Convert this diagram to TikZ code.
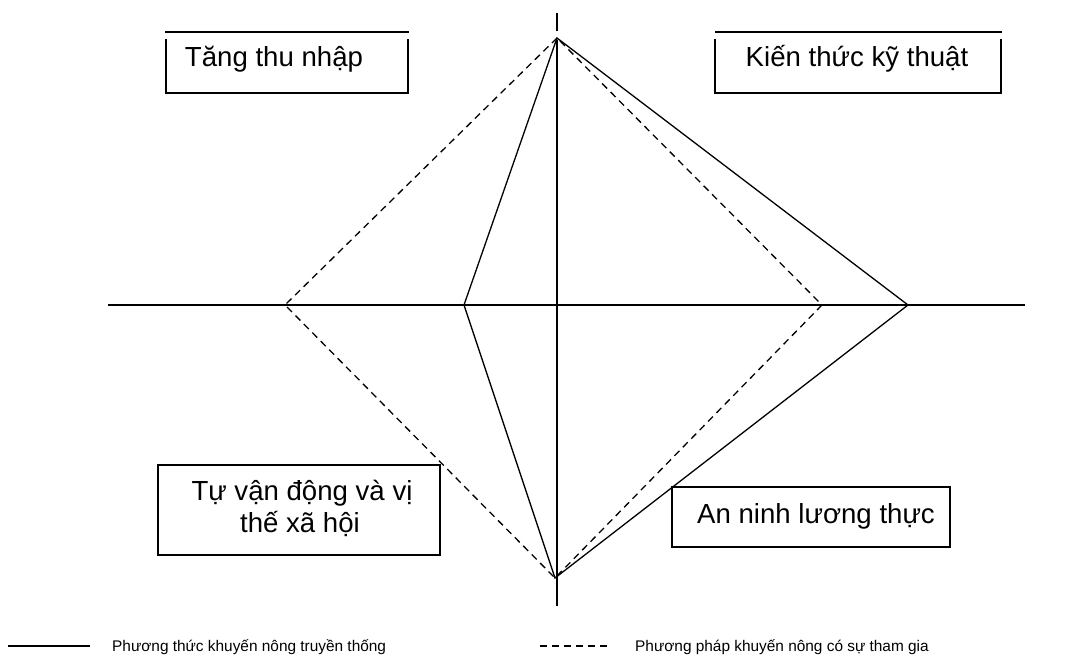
\documentclass[tikz,border=0pt]{standalone}
\usepackage{fontspec}
\setmainfont{Liberation Sans}
\begin{document}
\begin{tikzpicture}[x=1pt,y=-1pt,
  axis/.style={line width=1.7pt},
  solidln/.style={line width=1.3pt},
  dashln/.style={line width=1.3pt,dash pattern=on 7pt off 5pt},
  boxln/.style={line width=1.3pt},
  boxtxt/.style={font=\fontsize{27.6}{33}\selectfont,inner sep=0pt},
  legtxt/.style={font=\fontsize{15.4}{18}\selectfont,inner sep=0pt,anchor=base west}]
\useasboundingbox (0,0) rectangle (1069,655);
% key points
\coordinate (top) at (557,38);
\coordinate (bot) at (555,578);
\coordinate (L1) at (285,305);
\coordinate (L2) at (464,305);
\coordinate (R1) at (822,305);
\coordinate (R2) at (908,305);
\coordinate (ax1) at (108,305);
\coordinate (ax2) at (1025,305);
\coordinate (vt) at (557,13);
\coordinate (vg1) at (557,31);
\coordinate (vg2) at (557,40);
\coordinate (vb) at (557,606);
% axes
\draw[axis] (ax1) -- (ax2);
\draw[axis] (vt) -- (vg1);
\draw[axis] (vg2) -- (vb);
% traditional (solid)
\draw[solidln] (top) -- (L2) -- (bot) -- (R2) -- cycle;
% participatory (dashed)
\draw[dashln] (top) -- (L1) -- (bot) -- (R1) -- cycle;
% top-left box
\fill[white] (166,39) rectangle (408,93);
\draw[boxln] (165,32) -- (409,32);
\draw[boxln] (166,39) -- (166,93) -- (408,93) -- (408,39);
\node[boxtxt,anchor=base] (t1) at (274,67) {Tăng thu nhập};
% top-right box
\fill[white] (715,39) rectangle (1001,93);
\draw[boxln] (715,32) -- (1002,32);
\draw[boxln] (715,39) -- (715,93) -- (1001,93) -- (1001,39);
\node[boxtxt,anchor=base] (t2) at (857,67) {Kiến thức kỹ thuật};
% bottom-left box
\draw[boxln,fill=white] (158,465) rectangle (440,555);
\node[boxtxt,anchor=base] (t3a) at (302,500) {Tự vận động và vị};
\node[boxtxt,anchor=base] (t3b) at (300,532) {thế xã hội};
% bottom-right box
\draw[boxln,fill=white] (672,487) rectangle (950,547);
\node[boxtxt,anchor=base west] (t4) at (697,523) {An ninh lương thực};
% legend
\coordinate (ls1) at (8,646);
\coordinate (ls2) at (90,646);
\draw[line width=1.3pt] (ls1) -- (ls2);
\node[legtxt] (lg1) at (112,651) {Phương thức khuyến nông truyền thống};
\coordinate (ld1) at (540,646);
\coordinate (ld2) at (609,646);
\draw[line width=1.1pt,dash pattern=on 7pt off 5pt] (ld1) -- (ld2);
\node[legtxt] (lg2) at (635,651) {Phương pháp khuyến nông có sự tham gia};
\end{tikzpicture}
\end{document}
